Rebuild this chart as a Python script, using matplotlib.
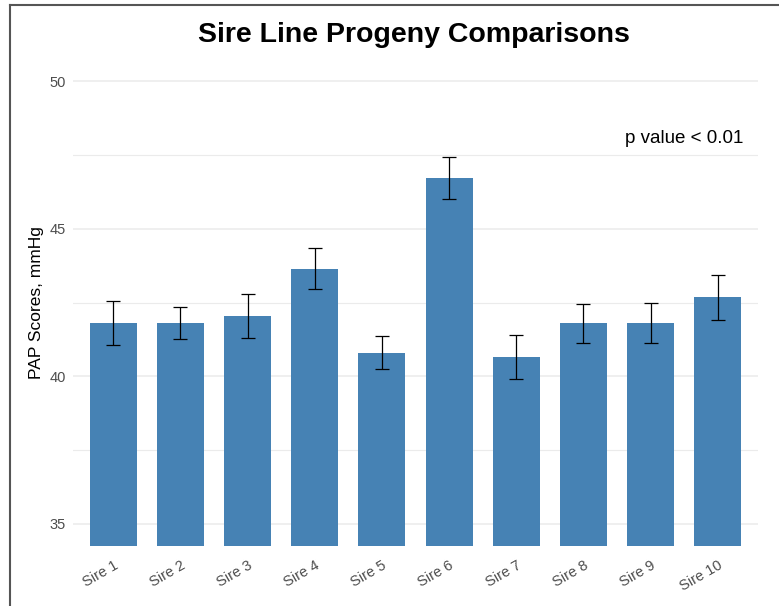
import matplotlib
matplotlib.use("Agg")
import matplotlib.pyplot as plt
from matplotlib.lines import Line2D
import numpy as np

plt.rcParams['font.family'] = ['Liberation Sans', 'DejaVu Sans']

sires = ['Sire 1', 'Sire 2', 'Sire 3', 'Sire 4', 'Sire 5',
         'Sire 6', 'Sire 7', 'Sire 8', 'Sire 9', 'Sire 10']
pap_mean = [41.80, 41.80, 42.05, 43.65, 40.80, 46.72, 40.65, 41.80, 41.80, 42.68]
pap_se = [0.74, 0.54, 0.74, 0.70, 0.55, 0.72, 0.74, 0.66, 0.67, 0.76]

fig = plt.figure(figsize=(7.79, 6.06), dpi=100)
ax = fig.add_axes([73 / 779, 60 / 606, 685 / 779, 487 / 606])

x = np.arange(1, len(sires) + 1)
ax.bar(x, pap_mean, width=0.7, color='#4682B4', zorder=2)
ax.errorbar(x, pap_mean, yerr=pap_se, fmt='none', ecolor='black',
            elinewidth=0.9, capsize=5, capthick=0.9, zorder=3)

ax.set_xlim(0.4, 10.6)
ax.set_ylim(34.25, 50.75)
ax.set_yticks([35, 40, 45, 50])
ax.set_yticks([37.5, 42.5, 47.5], minor=True)
ax.grid(True, which='major', axis='y', color='#EBEBEB', linewidth=1.1, zorder=0)
ax.grid(True, which='minor', axis='y', color='#EBEBEB', linewidth=0.8, zorder=0)
ax.set_axisbelow(True)
for s in ax.spines.values():
    s.set_visible(False)
ax.tick_params(axis='both', which='both', length=0, labelsize=10.5,
               labelcolor='#4D4D4D')
ax.tick_params(axis='y', pad=5)
ax.tick_params(axis='x', pad=9)
ax.set_xticks(x)
ax.set_xticklabels(sires, rotation=30, ha='right', rotation_mode='anchor')

ax.set_ylabel('PAP Scores, mmHg', fontsize=12.5, color='black', labelpad=4)
ax.text(10.6 - 0.22, 48.07, 'p value < 0.01', ha='right', va='center',
        fontsize=13.5, color='black')

fig.text(414 / 779, 1 - 35 / 606, 'Sire Line Progeny Comparisons',
         ha='center', va='center', fontsize=20.5, fontweight='bold')

# screenshot frame on left and top
fig.add_artist(Line2D([10 / 779, 10 / 779], [0, 1 - 5 / 606], color='#555555', linewidth=1.5))
fig.add_artist(Line2D([10 / 779, 1], [1 - 5 / 606, 1 - 5 / 606], color='#555555', linewidth=1.5))

fig.savefig('out.png', dpi=100)
